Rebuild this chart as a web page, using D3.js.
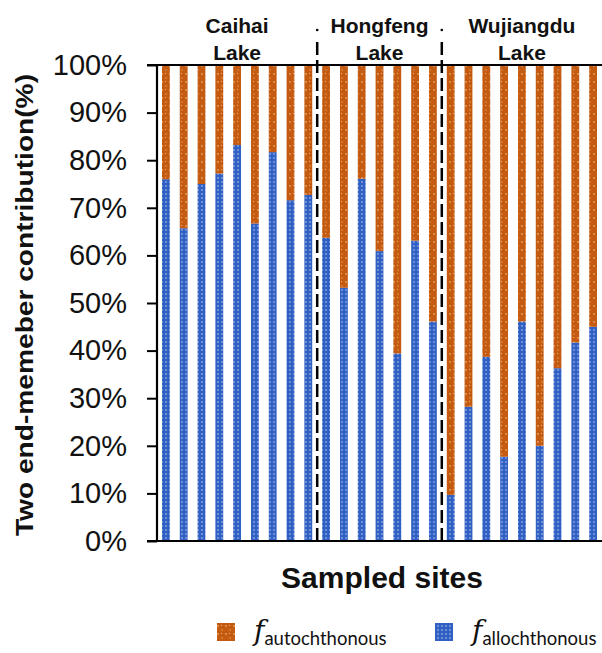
<!DOCTYPE html>
<html><head><meta charset="utf-8">
<script src="https://cdn.jsdelivr.net/npm/d3@7"></script>
<style>body{margin:0;background:#fff}svg{display:block}</style>
</head><body>
<svg id="chart" width="602" height="653"></svg>
<script>
// ---- data ----
const lakes = ["Caihai", "Hongfeng", "Wujiangdu"];
const siteCounts = [9, 7, 9];
const allochthonous = [
  76, 65.7, 75, 77.2, 83.2, 66.7, 81.7, 71.6, 72.7,      // Caihai
  63.7, 53.2, 76.1, 60.9, 39.4, 63.1, 46.1,              // Hongfeng
  9.7, 28.2, 38.7, 17.7, 46.1, 20, 36.3, 41.7, 45        // Wujiangdu
];
const yTicks = [0,10,20,30,40,50,60,70,80,90,100];

(function(){
const sites = allochthonous.map((v,i)=>({id:i, allo:v, auto:100-v}));
const svg = d3.select("#chart");
const defs = svg.append("defs");

// patterns
const pa = defs.append("pattern").attr("id","patAuto").attr("patternUnits","userSpaceOnUse")
  .attr("width",8).attr("height",8);
pa.append("rect").attr("width",8).attr("height",8).attr("fill","#c55a11");
pa.append("circle").attr("cx",2).attr("cy",2).attr("r",0.8).attr("fill","#f3c98f");
pa.append("circle").attr("cx",6).attr("cy",6).attr("r",0.7).attr("fill","#e9a560");
pa.append("rect").attr("x",5).attr("y",1).attr("width",1).attr("height",1).attr("fill","#f0b878");
const pb = defs.append("pattern").attr("id","patAllo").attr("patternUnits","userSpaceOnUse")
  .attr("width",4).attr("height",4);
pb.append("rect").attr("width",4).attr("height",4).attr("fill","#3160c4");
pb.append("circle").attr("cx",2).attr("cy",2).attr("r",0.75).attr("fill","#c9d8f5");

const mLeft=157, mRight=602, mTop=65, mBottom=541;
const x = d3.scaleBand().domain(sites.map(d=>d.id)).range([mLeft,mRight]).paddingInner(0.56).paddingOuter(0.28);
const y = d3.scaleLinear().domain([0,100]).range([mBottom,mTop]);

// bars
const g = svg.append("g");
g.selectAll("rect.allo").data(sites).join("rect").attr("class","allo")
  .attr("x",d=>x(d.id)).attr("width",x.bandwidth())
  .attr("y",d=>y(d.allo)).attr("height",d=>y(0)-y(d.allo)).attr("fill","url(#patAllo)");
g.selectAll("rect.auto").data(sites).join("rect").attr("class","auto")
  .attr("x",d=>x(d.id)).attr("width",x.bandwidth())
  .attr("y",d=>y(100)).attr("height",d=>y(d.allo)-y(100)).attr("fill","url(#patAuto)");

// axes
const yAxis = d3.axisLeft(y).tickValues(yTicks).tickFormat(d=>d+"%").tickSize(10).tickPadding(20);
const ya = svg.append("g").attr("transform",`translate(${mLeft},0)`).call(yAxis);
ya.select(".domain").remove();
ya.selectAll(".tick line").attr("stroke","#000").attr("stroke-width",2);
ya.selectAll(".tick text").attr("font-family","Liberation Sans, Arial, sans-serif").attr("font-size",29).attr("fill","#111");
svg.append("line").attr("x1",mLeft).attr("x2",mLeft).attr("y1",mTop).attr("y2",mBottom).attr("stroke","#000").attr("stroke-width",2.2);
svg.append("line").attr("x1",mLeft-10).attr("x2",mRight).attr("y1",mBottom).attr("y2",mBottom).attr("stroke","#000").attr("stroke-width",2.2);
svg.append("line").attr("x1",mLeft-10).attr("x2",mRight).attr("y1",mTop).attr("y2",mTop).attr("stroke","#000").attr("stroke-width",2);

// group separators & lake labels
let start=0;
const groupInfo = siteCounts.map((c,i)=>{const s=start; start+=c; return {lake:lakes[i], s, e:start-1};});
groupInfo.forEach((gi,i)=>{
  const cx = (x(gi.s) + x(gi.e) + x.bandwidth())/2;
  const t = svg.append("text").attr("x",cx).attr("text-anchor","middle")
    .attr("font-family","Liberation Sans, Arial, sans-serif").attr("font-weight","bold").attr("font-size",21).attr("fill","#111");
  t.append("tspan").attr("x",cx).attr("y",33).text(gi.lake);
  t.append("tspan").attr("x",cx).attr("y",60).text("Lake");
  if(i>0){
    const sx = (x(gi.s-1)+x.bandwidth() + x(gi.s))/2;
    svg.append("line").attr("x1",sx).attr("x2",sx).attr("y1",mBottom).attr("y2",40)
      .attr("stroke","#000").attr("stroke-width",2.5).attr("stroke-dasharray","13,5");
    svg.append("circle").attr("cx",sx).attr("cy",30).attr("r",1.3).attr("fill","#000");
  }
});

// axis titles
svg.append("text").attr("transform","translate(33,305) rotate(-90)").attr("text-anchor","middle")
  .attr("font-family","Liberation Sans, Arial, sans-serif").attr("font-weight","bold").attr("font-size",24).attr("fill","#111")
  .attr("textLength",462).attr("lengthAdjust","spacingAndGlyphs")
  .text("Two end-memeber contribution(%)");
svg.append("text").attr("x",382).attr("y",588).attr("text-anchor","middle")
  .attr("font-family","Liberation Sans, Arial, sans-serif").attr("font-weight","bold").attr("font-size",30).attr("fill","#111")
  .text("Sampled sites");

// legend
const legend = [{pat:"patAuto", sub:"autochthonous", x:217},{pat:"patAllo", sub:"allochthonous", x:435}];
legend.forEach(l=>{
  svg.append("rect").attr("x",l.x).attr("y",623).attr("width",18).attr("height",18).attr("fill",`url(#${l.pat})`);
  const t = svg.append("text").attr("x",l.x+37).attr("y",640).attr("fill","#111");
  t.append("tspan").attr("font-family","DejaVu Serif, serif").attr("font-style","italic").attr("font-size",28).text("f");
  t.append("tspan").attr("font-family","Lato, Open Sans, sans-serif").attr("font-size",18.5).attr("dy",5).text(l.sub);
});
})();
</script>
</body></html>
